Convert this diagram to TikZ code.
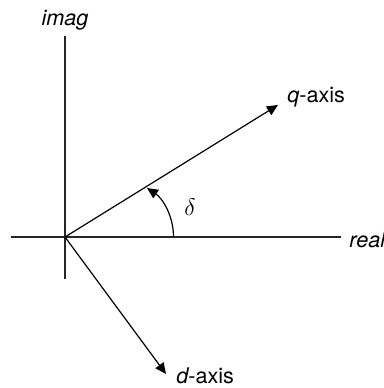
\documentclass[tikz,border=0pt]{standalone}
\usepackage{fontspec}
\setmainfont{TeX Gyre Heros}
\usetikzlibrary{arrows.meta}
\begin{document}
\begin{tikzpicture}[x=0.5pt,y=-0.5pt,
  axis/.style={line width=0.65pt,draw=black!85},
  vec/.style={line width=0.6pt,-{Triangle[length=5.5pt,width=5pt]}},
  lbl/.style={inner sep=0pt,font=\fontsize{10.8}{12}\selectfont}]
\useasboundingbox (0,0) rectangle (384,388);
\coordinate (O) at (65,237);
\coordinate (top) at (65,36);
\coordinate (bot) at (65,279);
\coordinate (left) at (11,237);
\coordinate (right) at (341,237);
\coordinate (qtip) at (278,105);
\coordinate (dtip) at (166,374);
\coordinate (arcs) at (173.5,237);
\coordinate (arce) at (147,188);
\draw[axis] (top) -- (bot);
\draw[axis] (left) -- (right);
\draw[vec] (O) -- (qtip);
\draw[vec] (O) -- (dtip);
\draw[vec] (arcs) .. controls (173.5,215) and (162,198) .. (arce);
\node[lbl] (imag) at (65,20) {\itshape imag};
\node[lbl,anchor=west] (real) at (349,240) {\itshape real};
\node[lbl,anchor=west] (qlab) at (287,97) {\itshape q\upshape-axis};
\node[lbl,anchor=west] (dlab) at (176,376) {\itshape d\upshape-axis};
\node[lbl] (delta) at (190,207) {\fontsize{13}{14}\selectfont$\delta$};
\end{tikzpicture}
\end{document}
